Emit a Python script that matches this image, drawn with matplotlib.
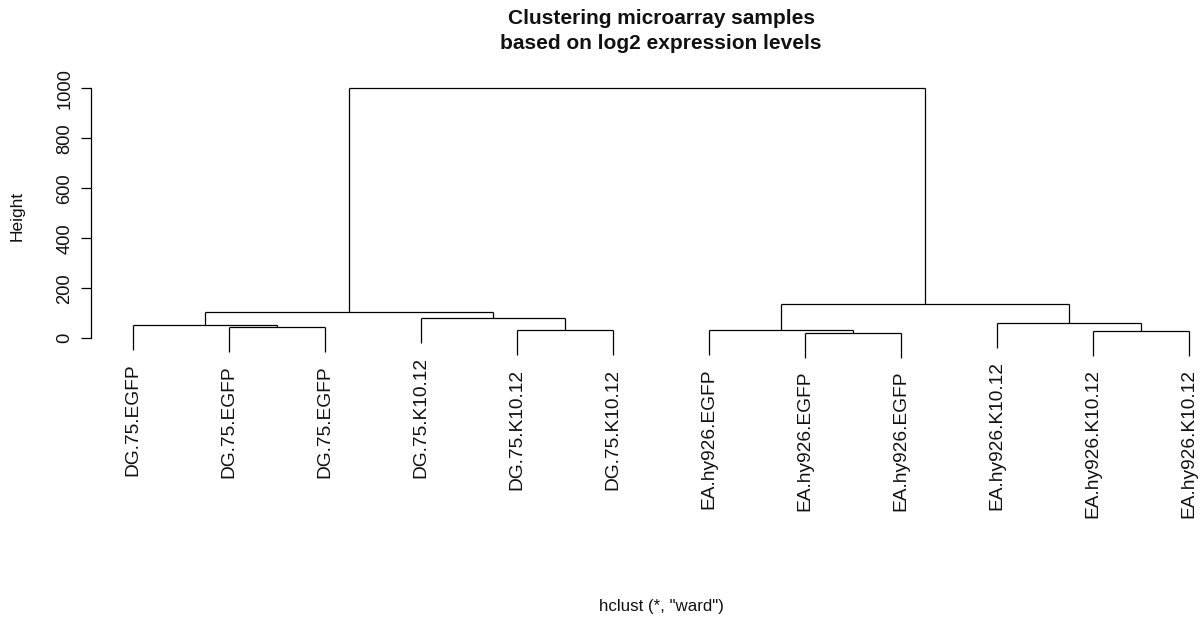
"""
    Clustering microarray samples (hclust, ward) - dendrogram
"""
import matplotlib
matplotlib.use('Agg')
import matplotlib.pyplot as plt

# leaf labels, in the order they appear left to right
leaf_labels = ['DG.75.EGFP', 'DG.75.EGFP', 'DG.75.EGFP',
               'DG.75.K10.12', 'DG.75.K10.12', 'DG.75.K10.12',
               'EA.hy926.EGFP', 'EA.hy926.EGFP', 'EA.hy926.EGFP',
               'EA.hy926.K10.12', 'EA.hy926.K10.12', 'EA.hy926.K10.12']

# R style merge table: negative = leaf (1-based position), positive = earlier merge
merge_left = [-2, -1, -5, -4, 2, -8, -7, -11, -10, 7, 5]
merge_right = [-3, 1, -6, 3, 4, -9, 6, -12, 8, 9, 10]
merge_height = [46, 52, 32, 80, 104, 22, 32, 28, 60, 137, 1000]

y_ticks = [0, 200, 400, 600, 800, 1000]


def draw_dendrogram(ax):
    hang = 0.1 * max(merge_height)
    node_x = {}
    line_kw = dict(color='black', lw=0.9, solid_capstyle='butt')

    for i in range(len(merge_height)):
        h = merge_height[i]
        xs = []
        for child in (merge_left[i], merge_right[i]):
            if child < 0:
                x = -child
                bottom = h - hang
                ax.plot([x, x], [bottom, h], **line_kw)
                ax.annotate(leaf_labels[x - 1], xy=(x, bottom), xytext=(0, -9.5),
                            textcoords='offset points', rotation=90,
                            ha='center', va='top', fontsize=13.8, color='#111111')
            else:
                x, ch = node_x[child]
                ax.plot([x, x], [ch, h], **line_kw)
            xs.append(x)
        ax.plot([xs[0], xs[1]], [h, h], **line_kw)
        node_x[i + 1] = ((xs[0] + xs[1]) / 2, h)


def main():
    plt.rcParams['font.family'] = ['Liberation Sans', 'DejaVu Sans']

    fig = plt.figure(figsize=(12.01, 6.23), dpi=100)
    W, H = 1201, 623

    # x: leaf 1 at px 133, leaf 12 at px 1189 ; y: 0 at px 338.3, 1000 at px 88.3
    x0, x1 = 0.56, 12.44
    left_px = 133 + 96 * (x0 - 1)
    right_px = 133 + 96 * (x1 - 1)
    y0, y1 = -100, 1050
    bottom_px = 338.3 - 0.25 * y0
    top_px = 338.3 - 0.25 * y1
    ax = fig.add_axes([left_px / W, 1 - bottom_px / H,
                       (right_px - left_px) / W, (bottom_px - top_px) / H])
    ax.set_xlim(x0, x1)
    ax.set_ylim(y0, y1)

    draw_dendrogram(ax)

    for s in ['top', 'right', 'bottom']:
        ax.spines[s].set_visible(False)
    ax.spines['left'].set_bounds(0, 1000)
    ax.spines['left'].set_linewidth(0.9)
    ax.set_xticks([])
    ax.set_yticks(y_ticks)
    ax.set_yticklabels([str(t) for t in y_ticks], rotation=90, va='center',
                       fontsize=13.2, color='#111111')
    ax.tick_params(axis='y', length=7.5, width=0.9, pad=5)

    cx = (left_px + right_px) / 2 / W
    fig.text(cx, 1 - 31 / H, 'Clustering microarray samples\nbased on log2 expression levels',
             ha='center', va='center', fontsize=15, fontweight='bold', color='#111111',
             linespacing=1.4)
    fig.text(17 / W, 1 - 216 / H, 'Height', rotation=90, ha='center', va='center',
             fontsize=12.5, color='#111111')
    fig.text(cx, 1 - 607 / H, 'hclust (*, "ward")', ha='center', va='center',
             fontsize=12.2, color='#111111')

    fig.savefig('out.png', dpi=100)


main()
